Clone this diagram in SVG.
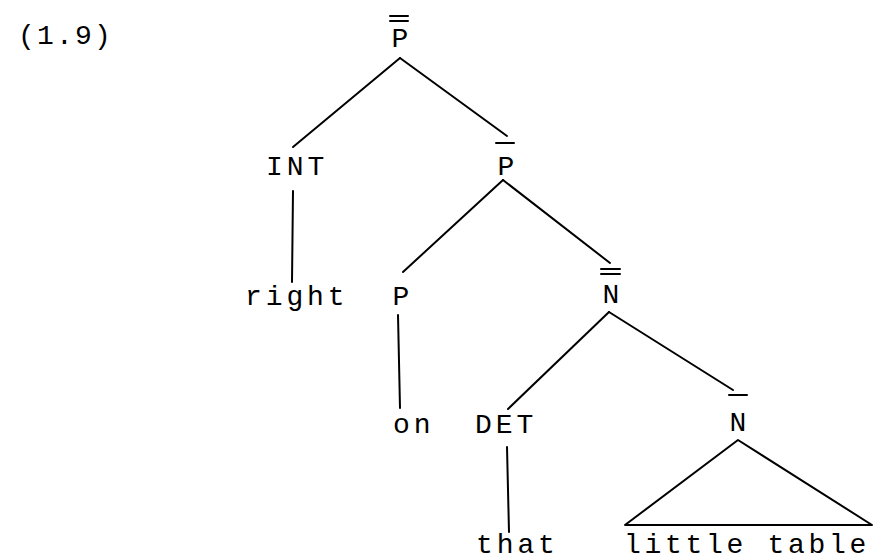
<svg xmlns="http://www.w3.org/2000/svg" width="875" height="560" viewBox="0 0 875 560">
<style>
text{font-family:"Liberation Mono","DejaVu Sans Mono",monospace;font-size:28px;fill:#000;letter-spacing:3.9px}
.c{text-anchor:middle;letter-spacing:0}
line,polygon,.bar{stroke:#000;stroke-width:2;fill:none;stroke-linecap:round}
</style>
<rect width="875" height="560" fill="#fff"/>
<text id="label" x="18" y="44" style="letter-spacing:2.2px">(1.9)</text>
<g id="n-Pbarbar"><text class="c" x="400" y="47">P</text><line class="bar" x1="390" y1="16" x2="408" y2="16"/><line class="bar" x1="390" y1="21" x2="408" y2="21"/></g>
<g id="n-INT"><text x="266" y="175">INT</text></g>
<g id="n-Pbar"><text class="c" x="506" y="175">P</text><line class="bar" x1="496" y1="143" x2="514" y2="143"/></g>
<g id="n-right"><text x="245" y="305">right</text></g>
<g id="n-P"><text class="c" x="401" y="305">P</text></g>
<g id="n-Nbarbar"><text class="c" x="611" y="303">N</text><line class="bar" x1="601" y1="269" x2="620" y2="269"/><line class="bar" x1="601" y1="274" x2="620" y2="274"/></g>
<g id="n-on"><text x="393" y="433">on</text></g>
<g id="n-DET"><text x="475" y="433">DET</text></g>
<g id="n-Nbar"><text class="c" x="738" y="431">N</text><line class="bar" x1="729" y1="395" x2="747" y2="395"/></g>
<g id="n-that"><text x="476" y="553">that</text></g>
<g id="n-little-table"><text x="624" y="553" style="letter-spacing:3.7px">little table</text></g>
<g id="connectors">
<line x1="400" y1="58" x2="293" y2="147"/>
<line x1="400" y1="58" x2="507" y2="136"/>
<line x1="293" y1="191" x2="292" y2="282"/>
<line x1="503" y1="180" x2="403" y2="272"/>
<line x1="503" y1="180" x2="610" y2="263"/>
<line x1="398" y1="315" x2="400" y2="408"/>
<line x1="609" y1="312" x2="508" y2="409"/>
<line x1="609" y1="312" x2="733" y2="390"/>
<line x1="507" y1="447" x2="509" y2="532"/>
<polygon points="738,440 625,525 872,525" stroke-linejoin="round"/>
</g>
</svg>
